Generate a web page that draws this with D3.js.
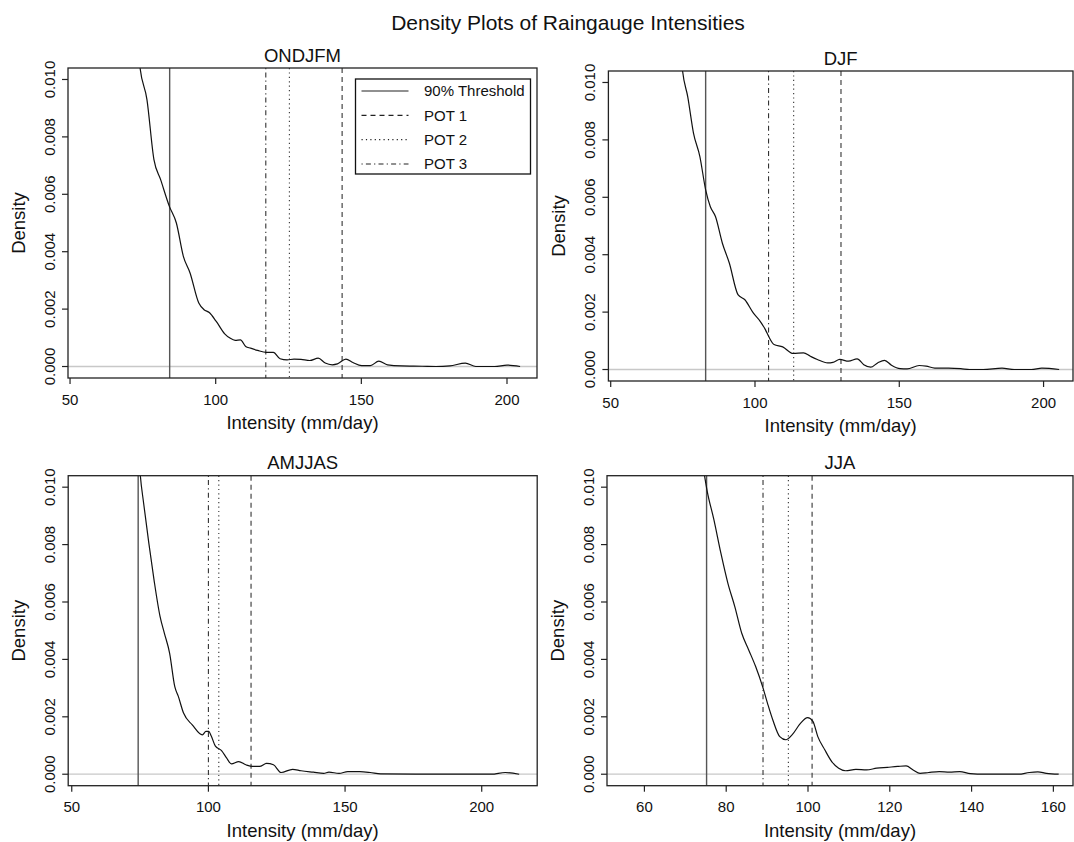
<!DOCTYPE html>
<html>
<head>
<meta charset="utf-8">
<script src="https://cdn.jsdelivr.net/npm/d3@7"></script>
<style>
  body { margin: 0; background: #fff; }
  text { font-family: "Liberation Sans", Arial, Helvetica, sans-serif; fill: #111; }
</style>
</head>
<body>
<div id="chart"></div>
<script>
"use strict";

// ---- data ----
var seasons = ["ONDJFM", "DJF", "AMJJAS", "JJA"];

var xTicks = [
  [50, 100, 150, 200],
  [50, 100, 150, 200],
  [50, 100, 150, 200],
  [60, 80, 100, 120, 140, 160]
];
var yTicks = [0, 0.002, 0.004, 0.006, 0.008, 0.010];

var xDomains = [[49.3, 210.3], [49.2, 210.2], [48.7, 220.3], [50.85, 164.8]];
var yDomain = [-0.0004, 0.0104];

var threshold = [84.2, 82.9, 74.3, 75.2];
var pot1 = [143.4, 129.8, 115.6, 101.0];
var pot2 = [125.3, 113.4, 103.8, 95.2];
var pot3 = [117.2, 104.7, 100.0, 89.0];

var legendLabels = ["90% Threshold", "POT 1", "POT 2", "POT 3"];

var densONDJFM = [
  [72.0, 0.0128], [74.0, 0.01043], [76.4, 0.0093], [78.8, 0.00721], [81.1, 0.00651],
  [84.1, 0.00558], [86.5, 0.0050], [88.9, 0.00384], [91.2, 0.00326], [94.2, 0.00221],
  [96.0, 0.00198], [97.8, 0.00188], [100.2, 0.00157], [103.1, 0.00114], [104.9, 0.00099],
  [106.7, 0.00091], [108.5, 0.00093], [110.3, 0.00070], [112.0, 0.00064], [114.4, 0.00056],
  [117.4, 0.00049], [119.8, 0.00049], [122.1, 0.00027], [124.5, 0.00023], [126.9, 0.00026],
  [129.3, 0.00025], [132.3, 0.00021], [135.2, 0.00029], [137.6, 0.00012], [140.0, 0.00006],
  [141.8, 0.00009], [144.7, 0.00026], [147.1, 0.00014], [150.1, 0.00003], [153.1, 0.00003],
  [156.0, 0.00019], [159.0, 0.00006], [163.8, 0.00002], [170.9, 0.00001], [175.6, 0.0],
  [180.4, 0.00002], [185.7, 0.00012], [189.3, 0.0], [195.8, 0.0], [200.0, 0.00005],
  [204.5, 0.0]
];

var densDJF = [
  [73.2, 0.0125], [74.9, 0.0104], [76.7, 0.0095], [78.7, 0.00823], [80.9, 0.00742],
  [82.9, 0.00626], [84.5, 0.00568], [86.3, 0.00533], [88.7, 0.0044], [91.1, 0.00371],
  [94.1, 0.00261], [96.5, 0.00243], [99.4, 0.00197], [101.8, 0.00168], [103.6, 0.00139],
  [104.8, 0.00114], [106.6, 0.00087], [109.6, 0.00079], [113.2, 0.00056], [116.8, 0.00058],
  [119.2, 0.00046], [121.6, 0.00035], [125.2, 0.00023], [127.0, 0.00025], [129.4, 0.00035],
  [132.4, 0.00029], [135.4, 0.00037], [137.7, 0.00017], [140.1, 0.00008], [142.5, 0.00023],
  [144.9, 0.00032], [147.3, 0.00015], [150.3, 0.00003], [152.7, 0.00002], [156.9, 0.00014],
  [159.3, 0.00012], [162.3, 0.00005], [167.1, 0.00005], [171.3, 0.00003], [174.3, 0.0],
  [179.1, 0.0], [185.6, 0.00005], [189.8, 0.0], [195.8, 0.0], [199.4, 0.00005],
  [205.4, 0.0]
];

var densAMJJAS = [
  [74.0, 0.0120], [75.1, 0.0104], [76.3, 0.00944], [78.2, 0.00805], [80.1, 0.00677],
  [82.3, 0.0055], [83.9, 0.00491], [85.8, 0.00422], [87.7, 0.00305], [89.0, 0.00271],
  [90.9, 0.00213], [94.1, 0.00172], [97.8, 0.00137], [99.1, 0.00149], [100.1, 0.00149],
  [101.0, 0.00134], [102.5, 0.00099], [104.8, 0.00082], [106.7, 0.00056], [108.4, 0.00036],
  [111.1, 0.00044], [113.7, 0.00033], [116.2, 0.00027], [118.7, 0.00027], [121.3, 0.00038],
  [123.8, 0.00033], [126.6, 0.00006], [130.8, 0.00017], [133.9, 0.00012], [138.4, 0.00007],
  [142.2, 0.00003], [144.1, 0.00007], [147.8, 0.00003], [151.0, 0.00009], [155.4, 0.00009],
  [159.2, 0.00006], [163.0, 0.00001], [175.7, 0.0], [188.4, 0.0], [203.5, 0.0],
  [208.6, 0.00006], [213.7, 0.0]
];

var densJJA = [
  [73.8, 0.0112], [74.7, 0.0104], [75.3, 0.0099], [77.0, 0.00886], [78.7, 0.0077],
  [80.4, 0.00666], [82.1, 0.00584], [83.8, 0.00491], [85.5, 0.00433], [87.2, 0.00375],
  [88.9, 0.00305], [90.1, 0.00247], [91.4, 0.00189], [93.1, 0.00131], [94.6, 0.0012],
  [96.1, 0.00137], [98.2, 0.00178], [99.9, 0.00197], [101.2, 0.00184], [102.4, 0.00131],
  [104.1, 0.00085], [105.8, 0.00044], [107.5, 0.00021], [109.2, 0.00012], [111.7, 0.00017],
  [114.3, 0.00015], [116.8, 0.00021], [119.4, 0.00024], [121.9, 0.00027], [124.0, 0.00029],
  [125.7, 0.00015], [127.4, 0.00003], [129.5, 0.00006], [132.1, 0.00009], [134.6, 0.00007],
  [137.1, 0.00009], [139.7, 0.00002], [143.1, 0.0], [151.5, 0.0], [154.1, 0.00006],
  [156.2, 0.00008], [158.3, 0.00003], [161.3, 0.0]
];

var densities = [densONDJFM, densDJF, densAMJJAS, densJJA];

// ---- layout ----
var width = 1074, height = 842;
var boxes = [
  { x0: 68,    x1: 537,    y0: 68,    y1: 378 },
  { x0: 608.4, x1: 1073,   y0: 71,    y1: 381 },
  { x0: 68.2,  x1: 537.2,  y0: 475.7, y1: 785.7 },
  { x0: 607,   x1: 1073,   y0: 475.7, y1: 785.7 }
];

var dashes = { solid: null, pot1: "5,4", pot2: "1.2,3.2", pot3: "1.2,3.2,5,3.2" };

var svg = d3.select("#chart")
  .append("svg")
  .attr("width", width)
  .attr("height", height);

svg.append("text")
  .attr("x", 568)
  .attr("y", 30)
  .attr("text-anchor", "middle")
  .style("font-size", "21px")
  .text("Density Plots of Raingauge Intensities");

seasons.forEach(function(name, i) {
  var b = boxes[i];
  var x = d3.scaleLinear().domain(xDomains[i]).range([b.x0, b.x1]);
  var y = d3.scaleLinear().domain(yDomain).range([b.y1, b.y0]);
  var g = svg.append("g");

  g.append("clipPath").attr("id", "clip" + i)
    .append("rect")
    .attr("x", b.x0).attr("y", b.y0)
    .attr("width", b.x1 - b.x0).attr("height", b.y1 - b.y0);

  var plot = g.append("g").attr("clip-path", "url(#clip" + i + ")");

  // zero line
  plot.append("line")
    .attr("x1", b.x0).attr("x2", b.x1)
    .attr("y1", y(0)).attr("y2", y(0))
    .attr("stroke", "#c8c8c8").attr("stroke-width", 1.3);

  // threshold + POT lines
  var vlines = [
    { v: threshold[i], d: dashes.solid, c: "#555", w: 1.4 },
    { v: pot1[i], d: dashes.pot1, c: "#333", w: 1.1 },
    { v: pot2[i], d: dashes.pot2, c: "#333", w: 1.1 },
    { v: pot3[i], d: dashes.pot3, c: "#333", w: 1.1 }
  ];
  plot.selectAll("line.v").data(vlines).enter()
    .append("line").attr("class", "v")
    .attr("x1", function(d) { return x(d.v); })
    .attr("x2", function(d) { return x(d.v); })
    .attr("y1", b.y0).attr("y2", b.y1)
    .attr("stroke", function(d) { return d.c; })
    .attr("stroke-width", function(d) { return d.w; })
    .attr("stroke-dasharray", function(d) { return d.d; });

  // density curve
  var line = d3.line()
    .x(function(d) { return x(d[0]); })
    .y(function(d) { return y(d[1]); })
    .curve(d3.curveMonotoneX);

  plot.append("path")
    .datum(densities[i])
    .attr("d", line)
    .attr("fill", "none")
    .attr("stroke", "#111")
    .attr("stroke-width", 1.2);

  // frame
  g.append("rect")
    .attr("x", b.x0).attr("y", b.y0)
    .attr("width", b.x1 - b.x0).attr("height", b.y1 - b.y0)
    .attr("fill", "none").attr("stroke", "#222").attr("stroke-width", 1.3);

  // x axis
  g.selectAll("line.xt").data(xTicks[i]).enter()
    .append("line").attr("class", "xt")
    .attr("x1", function(d) { return x(d); }).attr("x2", function(d) { return x(d); })
    .attr("y1", b.y1).attr("y2", b.y1 + 6)
    .attr("stroke", "#222").attr("stroke-width", 1.2);
  g.selectAll("text.xt").data(xTicks[i]).enter()
    .append("text").attr("class", "xt")
    .attr("x", function(d) { return x(d); })
    .attr("y", b.y1 + 26.5)
    .attr("text-anchor", "middle")
    .style("font-size", "15px")
    .text(function(d) { return d; });

  // y axis
  g.selectAll("line.yt").data(yTicks).enter()
    .append("line").attr("class", "yt")
    .attr("x1", b.x0 - 6).attr("x2", b.x0)
    .attr("y1", function(d) { return y(d); }).attr("y2", function(d) { return y(d); })
    .attr("stroke", "#222").attr("stroke-width", 1.2);
  g.selectAll("text.yt").data(yTicks).enter()
    .append("text").attr("class", "yt")
    .attr("transform", function(d) {
      return "translate(" + (b.x0 - 13.5) + "," + y(d) + ") rotate(-90)";
    })
    .attr("text-anchor", "middle")
    .style("font-size", "15px")
    .text(function(d) { return d3.format(".3f")(d); });

  // titles
  g.append("text")
    .attr("x", (b.x0 + b.x1) / 2)
    .attr("y", b.y0 - 6.5)
    .attr("text-anchor", "middle")
    .style("font-size", "18.5px")
    .text(name);

  g.append("text")
    .attr("x", (b.x0 + b.x1) / 2)
    .attr("y", b.y1 + 51)
    .attr("text-anchor", "middle")
    .style("font-size", "18.5px")
    .text("Intensity (mm/day)");

  g.append("text")
    .attr("transform", "translate(" + (b.x0 - 43.5) + "," + ((b.y0 + b.y1) / 2) + ") rotate(-90)")
    .attr("text-anchor", "middle")
    .style("font-size", "18.5px")
    .text("Density");
});

// legend (first panel only)
var leg = svg.append("g").attr("transform", "translate(355.5,79)");
leg.append("rect")
  .attr("width", 175).attr("height", 95)
  .attr("fill", "#fff").attr("stroke", "#111").attr("stroke-width", 1.3);

var legDash = [dashes.solid, dashes.pot1, dashes.pot2, dashes.pot3];
var legRow = d3.scaleLinear().domain([0, 3]).range([12, 85]);

leg.selectAll("line.k").data(legendLabels).enter()
  .append("line").attr("class", "k")
  .attr("x1", 6).attr("x2", 53)
  .attr("y1", function(d, j) { return legRow(j); })
  .attr("y2", function(d, j) { return legRow(j); })
  .attr("stroke", "#222").attr("stroke-width", 1.1)
  .attr("stroke-dasharray", function(d, j) { return legDash[j]; });

leg.selectAll("text.k").data(legendLabels).enter()
  .append("text").attr("class", "k")
  .attr("x", 68.5)
  .attr("y", function(d, j) { return legRow(j) + 5.3; })
  .style("font-size", "15px")
  .text(function(d) { return d; });
</script>
</body>
</html>
